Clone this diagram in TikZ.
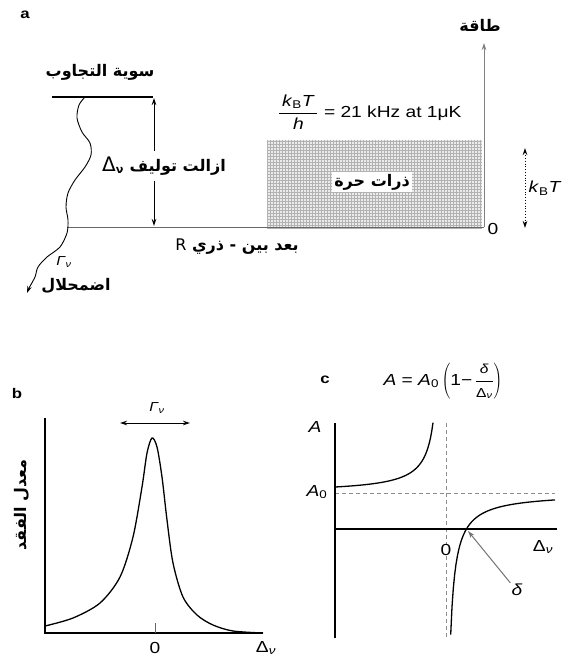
\documentclass[tikz,border=0pt]{standalone}
\usepackage{fontspec}
\setmainfont{Liberation Sans}[FakeStretch=1.2]
\newfontfamily\arabicfont[Script=Arabic]{DejaVu Sans}
\TeXXeTstate=1
\usetikzlibrary{arrows.meta}
\newcommand{\vi}[1]{\textit{#1}}
\begin{document}
\begin{tikzpicture}[x=1pt,y=-1pt,>={Stealth[length=7pt,width=4.5pt]},
  panel/.style={font=\bfseries\fontsize{14}{16}\selectfont},
  txt/.style={font=\fontsize{16}{18}\selectfont, inner sep=1pt},
  small/.style={font=\fontsize{13}{15}\selectfont, inner sep=1pt},
  artxt/.style={font=\arabicfont\bfseries\fontsize{16}{18}\selectfont, inner sep=1pt},
  axisline/.style={line width=1.4pt},
  guide/.style={black!45, dash pattern=on 4pt off 3pt, line width=1pt},
  curve/.style={line width=1.3pt}]
\useasboundingbox (0,0) rectangle (574,661);
\node[panel] (la) at (25,15) {a};
\fill[black!8] (267,140) rectangle (482,228);
\draw[black!30, line width=0.35pt, step=3pt] (267,140) grid (482,228);
\node[artxt, fill=white, inner sep=2pt] (free) at (372,182) {\beginR ذرات حرة\endR};
\coordinate (r0) at (52,97);
\coordinate (r1) at (153,97);
\coordinate (b0) at (67,227);
\coordinate (b1) at (484,227);
\coordinate (etop) at (484,43);
\draw[line width=1.2pt] (r0) -- (r1);
\draw[black!60, line width=0.8pt] (b0) -- (b1);
\draw[->, black!50, line width=0.8pt] (b1) -- (etop);
\node[artxt] (energy) at (480,25) {\beginR طاقة\endR};
\node[artxt] (reso) at (100,72) {\beginR سوية التجاوب\endR};
\coordinate (dtop) at (154,98);
\coordinate (dbot) at (154,226);
\draw[<->, line width=0.8pt] (dtop) -- (dbot);
\node[artxt, fill=white, inner ysep=6pt] (detune) at (164,166) {\beginR ازالت توليف \beginL{\mdseries\fontsize{20}{20}\selectfont Δ}\textsubscript{ν}\endL\endR};
\node[artxt] (dist) at (237,247) {\beginR بعد بين - ذري \beginL{\mdseries R}\endL\endR};
\node[txt] (zero) at (493,229) {0};
\coordinate (kt) at (525,148);
\coordinate (kb) at (525,228);
\draw[<->, dotted, line width=0.8pt] (kt) -- (kb);
\node[txt] (kbt) at (545,188) {\vi{k}\textsubscript{B}\vi{T}};
\node[txt, anchor=west] (freq) at (277,112) {$\displaystyle\frac{\mbox{\,\vi{k}\textsubscript{B}\vi{T}\,}}{\mbox{\vi{h}}}$ = 21 kHz at 1μK};
\coordinate (decay) at (27,293);
\draw[->, line width=0.9pt] plot[smooth] coordinates {(85,97) (79,105) (77,118) (82,132) (90,143) (91,155) (85,167) (75,180) (68,193) (66,207) (68,220) (67,233) (60,247) (47,257) (38,267) (35,277) (29,288)} -- (decay);
\node[small] (gama) at (64,262) {\vi{Γ}\textsubscript{\vi{ν}}};
\node[artxt] (decaytxt) at (76,286) {\beginR اضمحلال\endR};
\node[panel] (lb) at (17,393) {b};
\coordinate (by) at (45,418);
\coordinate (bo) at (45,633);
\coordinate (bx) at (263,633);
\draw[axisline] (by) -- (bo) -- (bx);
\draw[curve] plot[smooth] coordinates {(45,626) (73,618) (100,603) (120,577) (133,537) (142,487) (147,453) (152,438) (157,447) (162,477) (167,520) (173,563) (183,597) (197,615) (213,625) (233,631) (263,633)};
\coordinate (wl) at (120,423);
\coordinate (wr) at (190,423);
\draw[<->, line width=1pt] (wl) -- (wr);
\node[small] (width) at (157,408) {\vi{Γ}\textsubscript{\vi{ν}}};
\draw[black!60] (155,623) -- (155,633);
\node[txt] (bzero) at (155,648) {0};
\node[txt] (bdelta) at (266,648) {Δ\textsubscript{\vi{ν}}};
\node[artxt, rotate=90] (loss) at (22,505) {\beginR معدل الفقد\endR};
\node[panel] (lc) at (325,380) {c};
\node[txt] (law) at (443,381) {\vi{A} = \vi{A}\textsubscript{0}\,$\left(\mbox{1−\,}\displaystyle\frac{\mbox{\fontsize{13}{14}\selectfont\vi{δ}}}{\mbox{\fontsize{13}{14}\selectfont Δ\textsubscript{\vi{ν}}}}\right)$};
\coordinate (cy) at (335,423);
\coordinate (cb) at (335,638);
\coordinate (co) at (335,529);
\coordinate (cx) at (557,529);
\draw[guide] (335,493) -- (555,493);
\draw[guide] (446,423) -- (446,638);
\draw[axisline] (cy) -- (cb);
\draw[axisline] (co) -- (cx);
\node[txt, fill=white, inner sep=0.5pt] (czero) at (446,550) {0};
\node[txt] (cdelta) at (543,547) {Δ\textsubscript{\vi{ν}}};
\node[txt] (ca) at (315,427) {\vi{A}};
\node[txt] (ca0) at (317,492) {\vi{A}\textsubscript{0}};
\draw[curve] plot[domain=335:433, samples=80] (\x,{493-642/(446-\x-3.87)});
\draw[curve] plot[domain=450.7:555, samples=80] (\x,{493+760/(\x-445.33)});
\node[txt] (delta) at (517,590) {\vi{δ}};
\coordinate (cross) at (468,531);
\draw[->, black!55, line width=1pt] (delta.north west) -- (cross);
\end{tikzpicture}
\end{document}
